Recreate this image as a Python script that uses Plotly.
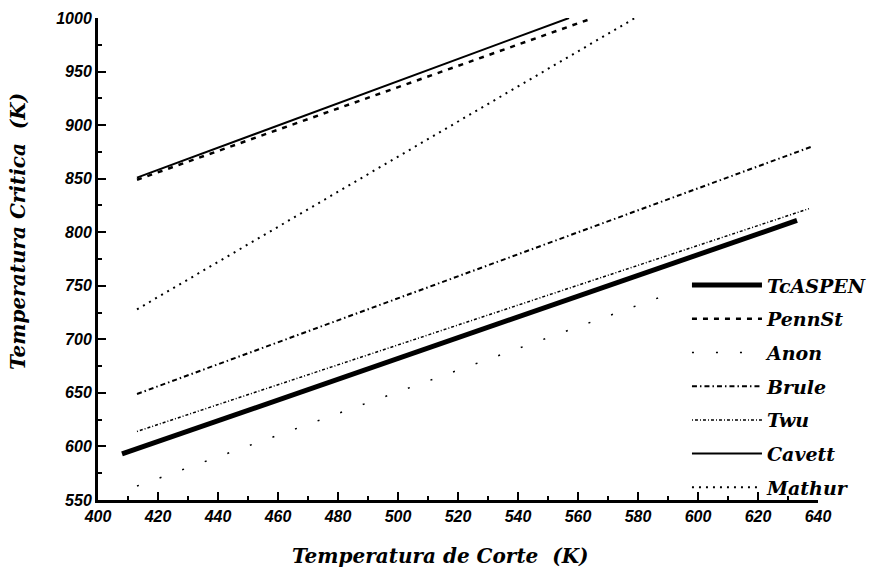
import plotly.graph_objects as go

# Data (start and end points of each straight line)
series_names = ["TcASPEN", "PennSt", "Anon", "Brule", "Twu", "Cavett", "Mathur"]
x_start = [408, 413, 413, 413, 413, 413, 413]
x_end   = [633, 565, 592, 638, 637, 557, 579]
y_start = [593, 849, 563, 649, 614, 851, 728]
y_end   = [811, 1000, 744, 880, 822, 1000, 1000]

x_ticks = [400, 420, 440, 460, 480, 500, 520, 540, 560, 580, 600, 620, 640]
y_ticks = [550, 600, 650, 700, 750, 800, 850, 900, 950, 1000]

styles = {
    "TcASPEN": dict(width=5, dash="solid"),
    "PennSt": dict(width=2.5, dash="5px,6px"),
    "Anon": dict(width=1.5, dash="2px,22px"),
    "Brule": dict(width=2, dash="5px,3px,1.5px,3px"),
    "Twu": dict(width=1.5, dash="1px,2px,3px,2px"),
    "Cavett": dict(width=2, dash="solid"),
    "Mathur": dict(width=2, dash="2px,5px"),
}

fig = go.Figure()
for i, name in enumerate(series_names):
    st = styles[name]
    fig.add_trace(go.Scatter(
        x=[x_start[i], x_end[i]], y=[y_start[i], y_end[i]],
        mode="lines", name=name, legendgroup=name,
        line=dict(color="black", width=st["width"], dash=st["dash"]),
    ))

tick_font = dict(family="Liberation Sans", size=16, color="black", weight="bold", style="italic")
title_font = dict(family="DejaVu Serif", size=20, color="black", style="italic", weight="bold")

pw, ph = 878 - 98 - 60, 572 - 18 - 72

fig.update_layout(
    width=878, height=572,
    margin=dict(l=98, r=60, t=18, b=72, autoexpand=False),
    paper_bgcolor="white", plot_bgcolor="white",
    showlegend=True,
    legend=dict(
        x=0.818, y=0.485, xanchor="left", yanchor="top",
        bgcolor="rgba(0,0,0,0)", borderwidth=0,
        font=dict(family="DejaVu Serif", size=19, color="black", style="italic", weight="bold"),
        itemwidth=70, tracegroupgap=6,
    ),
    xaxis=dict(
        range=[400, 640], tickvals=x_ticks, ticktext=[str(v) for v in x_ticks],
        showgrid=False, zeroline=False,
        showline=True, linecolor="black", linewidth=3,
        ticks="inside", ticklen=8, tickwidth=2, tickcolor="black",
        minor=dict(dtick=10, ticks="inside", ticklen=4, tickwidth=2, tickcolor="black"),
        tickfont=tick_font,
    ),
    yaxis=dict(
        range=[550, 1000], tickvals=y_ticks, ticktext=[str(v) for v in y_ticks],
        showgrid=False, zeroline=False,
        showline=True, linecolor="black", linewidth=3,
        ticks="inside", ticklen=8, tickwidth=2, tickcolor="black",
        minor=dict(dtick=25, ticks="inside", ticklen=4, tickwidth=2, tickcolor="black"),
        tickfont=tick_font,
    ),
    annotations=[
        dict(text="Temperatura de Corte  (K)", x=(440 - 98) / pw, y=1 - (556 - 18) / ph,
             xref="paper", yref="paper", xanchor="center", yanchor="middle",
             showarrow=False, font=title_font),
        dict(text="Temperatura Critica  (K)", x=(18 - 98) / pw, y=1 - (232 - 18) / ph,
             xref="paper", yref="paper", xanchor="center", yanchor="middle",
             textangle=-90, showarrow=False, font=title_font),
    ],
)

fig.write_html("out.html")
